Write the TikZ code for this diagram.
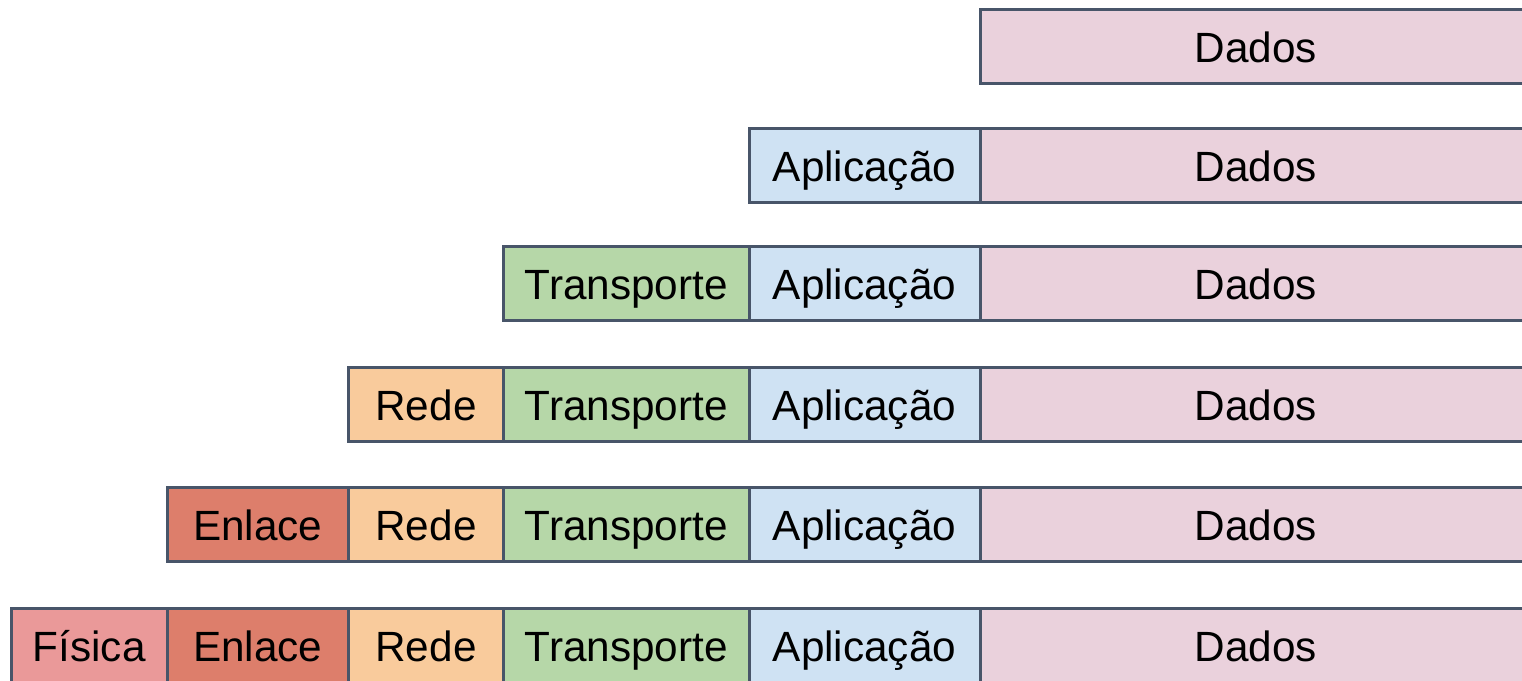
\documentclass[tikz,border=0pt]{standalone}
\usepackage{fontspec}
\setmainfont{Liberation Sans}
\definecolor{edge}{HTML}{485569}
\definecolor{cDados}{HTML}{EAD1DC}
\definecolor{cApl}{HTML}{CFE2F3}
\definecolor{cTrans}{HTML}{B6D7A8}
\definecolor{cRede}{HTML}{F9CB9C}
\definecolor{cEnl}{HTML}{DD7E6B}
\definecolor{cFis}{HTML}{EA9999}
\tikzset{
  cell/.style={draw=edge, line width=3pt},
  label/.style={font=\fontsize{42.3}{50}\selectfont, text=black,
    inner sep=0pt, anchor=base}
}
% one header cell: #1 name, #2 left, #3 right, #4 top, #5 fill, #6 label
\newcommand{\hcell}[6]{%
  \filldraw[cell, fill=#5] (#2,#4) rectangle (#3,#4+74);
  \node[label] (#1) at ({(#2+#3)/2},#4+53) {#6};
}
\begin{document}
\begin{tikzpicture}[x=1pt,y=-1pt]
\useasboundingbox (0,0) rectangle (1522,680);
\begin{scope}
\clip (0,0) rectangle (1522,680);
% column boundaries: 11.5, 167, 348.5, 503.5, 749, 980, 1532
% row 1
\hcell{d1}{980}{1532}{9}{cDados}{Dados}
% row 2
\hcell{a2}{749}{980}{128}{cApl}{Aplicação}
\hcell{d2}{980}{1532}{128}{cDados}{Dados}
% row 3
\hcell{t3}{503.5}{749}{246.5}{cTrans}{Transporte}
\hcell{a3}{749}{980}{246.5}{cApl}{Aplicação}
\hcell{d3}{980}{1532}{246.5}{cDados}{Dados}
% row 4
\hcell{r4}{348.5}{503.5}{367}{cRede}{Rede}
\hcell{t4}{503.5}{749}{367}{cTrans}{Transporte}
\hcell{a4}{749}{980}{367}{cApl}{Aplicação}
\hcell{d4}{980}{1532}{367}{cDados}{Dados}
% row 5
\hcell{e5}{167}{348.5}{487.5}{cEnl}{Enlace}
\hcell{r5}{348.5}{503.5}{487.5}{cRede}{Rede}
\hcell{t5}{503.5}{749}{487.5}{cTrans}{Transporte}
\hcell{a5}{749}{980}{487.5}{cApl}{Aplicação}
\hcell{d5}{980}{1532}{487.5}{cDados}{Dados}
% row 6
\hcell{f6}{11.5}{167}{608}{cFis}{Física}
\hcell{e6}{167}{348.5}{608}{cEnl}{Enlace}
\hcell{r6}{348.5}{503.5}{608}{cRede}{Rede}
\hcell{t6}{503.5}{749}{608}{cTrans}{Transporte}
\hcell{a6}{749}{980}{608}{cApl}{Aplicação}
\hcell{d6}{980}{1532}{608}{cDados}{Dados}
\end{scope}
\end{tikzpicture}
\end{document}
